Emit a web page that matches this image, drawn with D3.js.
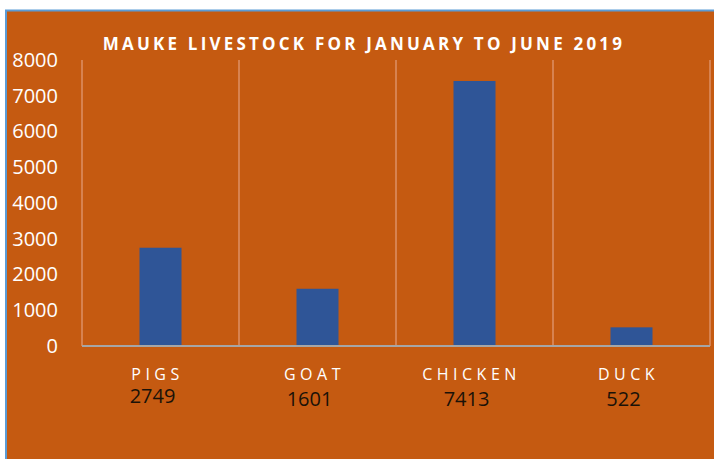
<!DOCTYPE html>
<html>
<head>
<meta charset="utf-8">
<script src="https://cdn.jsdelivr.net/npm/d3@7"></script>
<style>
  body { margin: 0; background: #fff; }
  svg { display: block; }
</style>
</head>
<body>
<svg id="chart"></svg>
<script>
// mauke livestock data
var categories = ["PIGS", "GOAT", "CHICKEN", "DUCK"];
var counts = [2749, 1601, 7413, 522];
var yTicks = [0, 1000, 2000, 3000, 4000, 5000, 6000, 7000, 8000];
var title = "MAUKE LIVESTOCK FOR JANUARY TO JUNE 2019";

var W = 714, H = 459;
var plotLeft = 82, plotRight = 710, plotTop = 60, plotBottom = 346;

var svg = d3.select("svg#chart")
    .attr("width", W)
    .attr("height", H);

// background + blue frame
svg.append("rect")
    .attr("x", 5).attr("y", 10)
    .attr("width", W - 5).attr("height", H - 10)
    .attr("fill", "#C55A11");
svg.append("path")
    .attr("d", "M6," + H + "V10.5H" + W)
    .attr("fill", "none")
    .attr("stroke", "#5B9BD5")
    .attr("stroke-width", 2);

var x = d3.scaleBand()
    .domain(categories)
    .range([plotLeft, plotRight]);

var y = d3.scaleLinear()
    .domain([0, 8000])
    .range([plotBottom, plotTop]);

// vertical grid lines at category edges
var edges = categories.map(function(d) { return x(d); }).concat([plotRight]);
svg.append("g").selectAll("line")
    .data(edges)
    .enter()
    .append("line")
    .attr("x1", function(d) { return d; })
    .attr("x2", function(d) { return d; })
    .attr("y1", plotTop)
    .attr("y2", plotBottom)
    .attr("stroke", "#DC9166")
    .attr("stroke-width", 1.5);

// bars
var barW = 42;
svg.append("g").selectAll("rect")
    .data(counts)
    .enter()
    .append("rect")
    .attr("x", function(d, i) { return x(categories[i]) + x.bandwidth() / 2 - barW / 2; })
    .attr("y", function(d) { return y(d); })
    .attr("width", barW)
    .attr("height", function(d) { return plotBottom - y(d); })
    .attr("fill", "#2F5597");

// baseline
svg.append("line")
    .attr("x1", plotLeft).attr("x2", plotRight)
    .attr("y1", plotBottom).attr("y2", plotBottom)
    .attr("stroke", "#A6A6A6")
    .attr("stroke-width", 2);

// y axis labels
var yAxis = d3.axisLeft(y).tickValues(yTicks).tickFormat(d3.format("d"))
    .tickSize(0).tickPadding(24);
var yg = svg.append("g")
    .attr("transform", "translate(" + plotLeft + ",0)")
    .call(yAxis);
yg.select(".domain").remove();
yg.selectAll("text")
    .attr("fill", "#fff")
    .attr("font-family", "'Open Sans', sans-serif")
    .attr("font-size", 20);

// title
svg.append("text")
    .attr("x", 364)
    .attr("y", 50)
    .attr("text-anchor", "middle")
    .attr("fill", "#fff")
    .attr("font-family", "'Open Sans', sans-serif")
    .attr("font-weight", "bold")
    .attr("font-size", 17)
    .attr("letter-spacing", 3.2)
    .text(title);

// category names
svg.append("g").selectAll("text")
    .data(categories)
    .enter()
    .append("text")
    .attr("x", function(d) { return x(d) + x.bandwidth() / 2 - 5; })
    .attr("y", 380)
    .attr("text-anchor", "middle")
    .attr("fill", "#fff")
    .attr("font-family", "'Open Sans', sans-serif")
    .attr("font-size", 16)
    .attr("letter-spacing", 4.5)
    .attr("dx", 2)
    .text(function(d) { return d; });

// value labels under names
svg.append("g").selectAll("text")
    .data(counts)
    .enter()
    .append("text")
    .attr("x", function(d, i) { return x(categories[i]) + x.bandwidth() / 2 - 8; })
    .attr("y", function(d, i) { return i == 0 ? 403 : 406; })
    .attr("text-anchor", "middle")
    .attr("fill", "#1a1208")
    .attr("font-family", "'Open Sans', sans-serif")
    .attr("font-size", 20)
    .text(function(d) { return d; });
</script>
</body>
</html>
